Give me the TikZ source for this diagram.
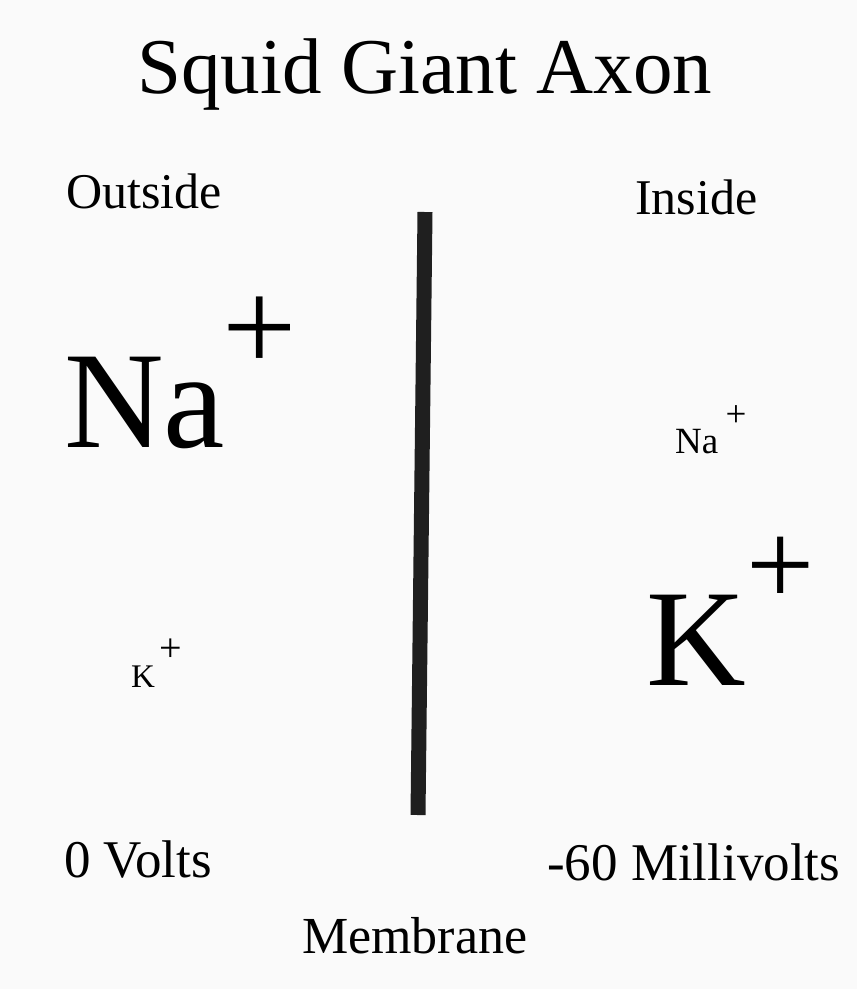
\documentclass[tikz,border=0pt]{standalone}
\usepackage{fontspec}
\setmainfont{Liberation Serif}
\usepackage{tikz}
\usetikzlibrary{positioning}

\begin{document}
\begin{tikzpicture}[
    x=1pt, y=-1pt,
    title/.style={font=\fontsize{79}{90}\selectfont, inner sep=0, anchor=base},
    side/.style={font=\fontsize{50}{60}\selectfont, inner sep=0, anchor=base west},
    bigion/.style={font=\fontsize{138}{150}\selectfont, inner sep=0, anchor=base west},
    smallion/.style={font=\fontsize{37}{44}\selectfont, inner sep=0, anchor=base west},
    charge/.style={inner sep=0, anchor=center},
    wall/.style={line width=15pt, black!88}
  ]
    \fill[black!2] (0,0) rectangle (857,989);
    \useasboundingbox (0,0) rectangle (857,989);

    \node[title] (head) at (425,93) {Squid Giant Axon};

    \node[side] (outside) at (66,208)  {Outside};
    \node[side] (inside)  at (635,214) {Inside};

    % ions outside
    \node[bigion]   (naout) at (64,447)  {Na};
    \node[charge, font=\fontsize{132}{140}\selectfont] (naoutp) at (260,334) {+};
    \node[smallion, font=\fontsize{33}{40}\selectfont] (kout) at (131,687) {K};
    \node[charge, font=\fontsize{40}{48}\selectfont] (koutp) at (171,650) {+};

    % ions inside
    \node[smallion] (nain) at (675,453) {Na};
    \node[charge, font=\fontsize{37}{44}\selectfont] (nainp) at (736,416) {+};
    \node[bigion]   (kin) at (646,685) {K};
    \node[charge, font=\fontsize{121}{130}\selectfont] (kinp) at (781,571) {+};

    % membrane
    \coordinate (mtop) at (425,212);
    \coordinate (mbot) at (418,815);
    \draw[wall] (mtop) -- (mbot);

    \node[side, font=\fontsize{53}{60}\selectfont] (zero)  at (64,877)  {0 Volts};
    \node[side, font=\fontsize{53}{60}\selectfont] (minus) at (547,880) {-60 Millivolts};
    \node[side, font=\fontsize{52}{60}\selectfont] (memb)  at (302,953) {Membrane};
  \end{tikzpicture}
\end{document}
